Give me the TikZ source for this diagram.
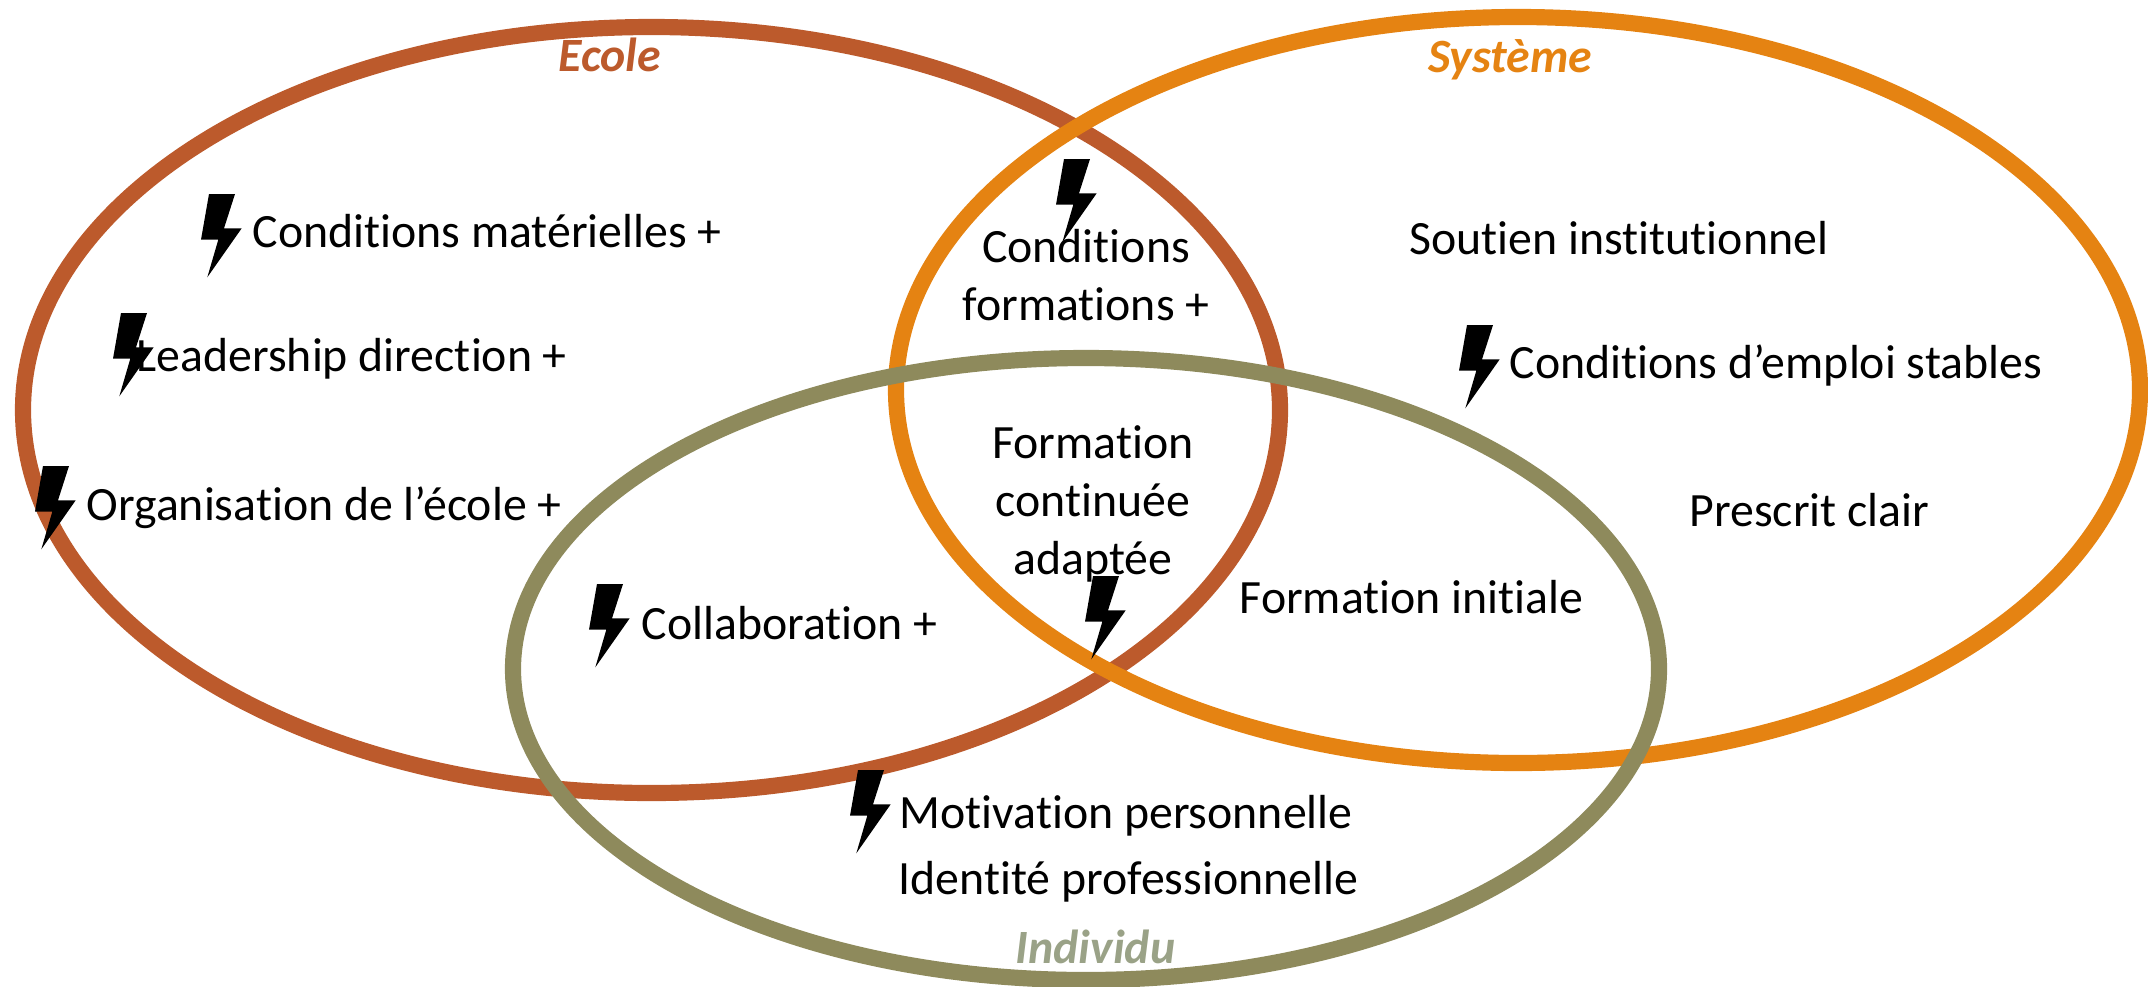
\documentclass[tikz,border=0pt]{standalone}
\usepackage{fontspec}
\setmainfont[Ligatures=CommonOff]{Carlito}
\usepackage{tikz}
\definecolor{EcoleBrown}{HTML}{BC5A2C}
\definecolor{SystemeOrange}{HTML}{E58312}
\definecolor{IndividuOlive}{HTML}{8E8A5C}
\definecolor{IndividuLabel}{HTML}{9AA287}
\tikzset{
  ring/.style={line width=4.6pt},
  itemtext/.style={anchor=base west, inner sep=0pt, font=\fontsize{13.6}{16.5}\selectfont, text=black},
  stacktext/.style={anchor=base, inner sep=0pt, align=center, font=\fontsize{13.6}{16.5}\selectfont, text=black},
  titletext/.style={anchor=base west, inner sep=0pt, font=\fontsize{13.6}{16.5}\selectfont\bfseries\itshape},
  pics/bolt/.style={code={
    \fill[black] (0.08,0) -- (0.34,0) -- (0.23,-0.343) -- (0.407,-0.343) -- (0.063,-0.833) -- (0.173,-0.457) -- (0,-0.457) -- cycle;
  }}
}
\begin{document}
\begin{tikzpicture}
  \useasboundingbox (0,0) rectangle (21.48,9.86);
  % the three rings
  \draw[ring, EcoleBrown] (6.515,5.76) ellipse [x radius=6.285, y radius=3.83];
  \draw[ring, SystemeOrange] (15.18,5.96) ellipse [x radius=6.22, y radius=3.73];
  \draw[ring, IndividuOlive] (10.86,3.17) ellipse [x radius=5.73, y radius=3.11];

  \node[titletext, EcoleBrown] (ecole) at (5.58,9.15) {Ecole};
  \node[titletext, SystemeOrange] (systeme) at (14.275,9.14) {Système};
  \node[titletext, IndividuLabel] (individu) at (10.15,0.23) {Individu};

  \node[itemtext] (materiel) at (2.52,7.39) {Conditions matérielles +};
  \node[itemtext] (leadership) at (1.36,6.15) {Leadership direction +};
  \node[itemtext] (organisation) at (0.86,4.66) {Organisation de l’école +};
  \node[itemtext] (collab) at (6.41,3.47) {Collaboration +};
  \node[itemtext] (motivation) at (8.99,1.58) {Motivation personnelle};
  \node[itemtext] (identite) at (8.98,0.92) {Identité professionnelle};
  \node[itemtext] (soutien) at (14.09,7.32) {Soutien institutionnel};
  \node[itemtext] (emploi) at (15.09,6.08) {Conditions d’emploi stables};
  \node[itemtext] (prescrit) at (16.89,4.60) {Prescrit clair};
  \node[itemtext] (initiale) at (12.39,3.73) {Formation initiale};
  \node[stacktext] (formations) at (10.86,6.66) {Conditions\\formations +};
  \node[stacktext] (continuee) at (10.93,4.12) {Formation\\continuée\\adaptée};

  \pic (boltmateriel) at (2.01,7.92) {bolt};
  \pic (boltleadership) at (1.13,6.73) {bolt};
  \pic (boltorganisation) at (0.35,5.20) {bolt};
  \pic (boltformations) at (10.56,8.27) {bolt};
  \pic (boltcontinuee) at (10.85,4.10) {bolt};
  \pic (boltcollab) at (5.89,4.02) {bolt};
  \pic (boltmotivation) at (8.50,2.16) {bolt};
  \pic (boltemploi) at (14.59,6.61) {bolt};
\end{tikzpicture}
\end{document}
